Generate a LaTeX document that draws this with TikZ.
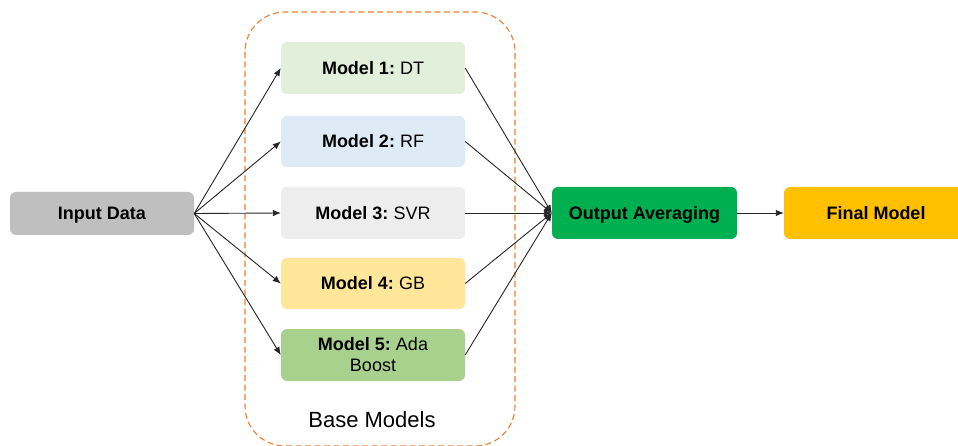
\documentclass[tikz,border=0pt]{standalone}
\usepackage{fontspec}
\setmainfont{Liberation Sans}
\usetikzlibrary{arrows.meta}
\frenchspacing
\definecolor{cin}{HTML}{BFBFBF}
\definecolor{cm1}{HTML}{E2EFDA}
\definecolor{cm2}{HTML}{DEEBF7}
\definecolor{cm3}{HTML}{EDEDED}
\definecolor{cm4}{HTML}{FFE699}
\definecolor{cm5}{HTML}{A9D18E}
\definecolor{cout}{HTML}{00B050}
\definecolor{cfin}{HTML}{FFC000}
\definecolor{corg}{HTML}{F07F30}
\definecolor{cline}{HTML}{262626}
\tikzset{
  box/.style={rounded corners=6pt, minimum width=184pt, minimum height=52pt, inner sep=0pt, align=center, font=\fontsize{18}{21}\selectfont},
  one/.style={text height=13pt, text depth=0pt},
  conn/.style={draw=cline, line width=0.9pt, -{Latex[length=8pt,width=6.5pt]}},
}
\begin{document}
\begin{tikzpicture}[x=1pt,y=-1pt]
\useasboundingbox (0,0) rectangle (958,446);
\fill[white] (0,0) rectangle (958,446);
\draw[corg, line width=1.1pt, dash pattern=on 6pt off 3.5pt, rounded corners=40pt] (245,12) rectangle (515,446);
\node (base) at (372,420) {\fontsize{22}{26}\selectfont Base Models};

\node[box, one, fill=cin, minimum height=43pt] (in) at (102,213.5) {\textbf{Input Data}};
\node[box, one, fill=cm1] (m1) at (373,68) {\textbf{Model 1:} DT};
\node[box, one, fill=cm2, minimum height=51pt] (m2) at (373,141.5) {\textbf{Model 2:} RF};
\node[box, one, fill=cm3] (m3) at (373,213) {\textbf{Model 3:} SVR};
\node[box, one, fill=cm4, minimum height=51pt] (m4) at (373,283.5) {\textbf{Model 4:} GB};
\node[box, fill=cm5] (m5) at (373,355) {\textbf{Model 5:} Ada\\Boost};
\node[box, one, fill=cout, minimum width=185pt] (out) at (644.5,213) {\textbf{Output Averaging}};
\node[box, one, fill=cfin] (fin) at (876,213) {\textbf{Final Model}};

\foreach \m in {m1,m2,m3,m4,m5} {
  \draw[conn] (in.east) -- (\m.west);
  \draw[conn] (\m.east) -- (out.west);
}
\draw[conn] (out.east) -- (fin.west);
\end{tikzpicture}
\end{document}
